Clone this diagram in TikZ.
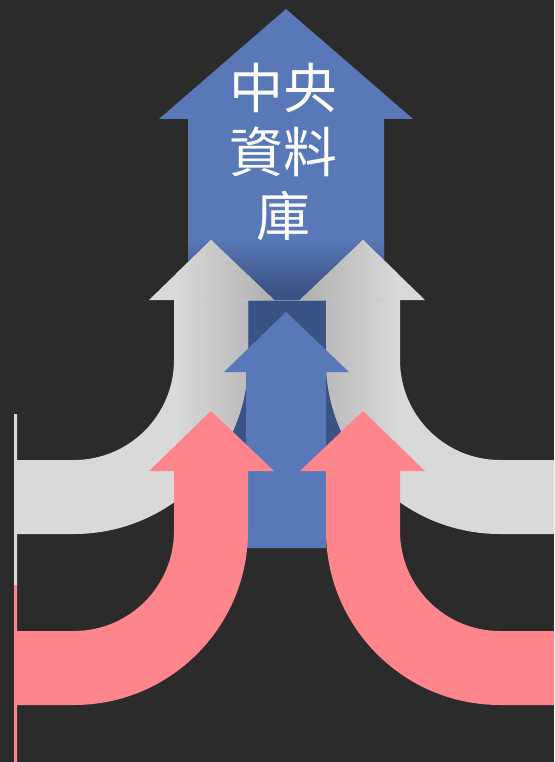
\documentclass[tikz,border=0pt]{standalone}
\usepackage{fontspec}
\newfontfamily\cjk{Noto Sans CJK TC}
\usepackage{tikz}

\definecolor{boardbg}{HTML}{2B2B2B}
\definecolor{blueMain}{HTML}{5878B8}
\definecolor{blueDark}{HTML}{3B5384}
\definecolor{grayMain}{HTML}{D9D9D9}
\definecolor{grayDark}{HTML}{A6A6A6}
\definecolor{pinkMain}{HTML}{FF858D}
\definecolor{stripGray}{HTML}{8A8A8A}
\definecolor{stripPink}{HTML}{A8656C}

\begin{document}
\begin{tikzpicture}[x=1pt, y=-1pt,
	bluearrow/.style={fill=blueMain},
	grayarrow/.style={fill=grayMain},
	pinkarrow/.style={fill=pinkMain},
	every node/.style={text=white, align=center, font=\cjk\fontsize{54}{64}\selectfont}]
		\useasboundingbox (0,0) rectangle (554,762);
		\fill[boardbg] (0,0) rectangle (554,762);

		% central arrow
		\fill[bluearrow] (188,300) -- (188,119) -- (159,119) -- (286,9)
			-- (413,119) -- (384,119) -- (384,300) -- cycle;
		\shade[top color=blueMain, bottom color=blueDark] (188,238) rectangle (384,292);
		\fill[blueDark] (188,291) rectangle (384,465);
		\node (store) at (283,152) {中央\\資料\\庫};

		% gray arrows
		\fill[grayarrow] (149,300) -- (211,240) -- (274,300) -- (248,300) -- (248,360)
			arc[start angle=0, end angle=90, radius=174] -- (17,534) -- (17,460) -- (74,460)
			arc[start angle=90, end angle=0, radius=100] -- (174,300) -- cycle;
		\fill[grayarrow] (425,300) -- (363,240) -- (300,300) -- (326,300) -- (326,360)
			arc[start angle=180, end angle=90, radius=174] -- (554,534) -- (554,460) -- (500,460)
			arc[start angle=90, end angle=180, radius=100] -- (400,300) -- cycle;
		\begin{scope}
			\clip (149,300) -- (211,240) -- (274,300) -- (248,300) -- (248,360)
				arc[start angle=0, end angle=90, radius=174] -- (74,460)
				arc[start angle=90, end angle=0, radius=100] -- (174,300) -- cycle;
			\shade[left color=grayMain, right color=grayDark] (176,230) rectangle (296,470);
		\end{scope}
		\begin{scope}
			\clip (425,300) -- (363,240) -- (300,300) -- (326,300) -- (326,360)
				arc[start angle=180, end angle=90, radius=174] -- (500,460)
				arc[start angle=90, end angle=180, radius=100] -- (400,300) -- cycle;
			\shade[left color=grayDark, right color=grayMain] (278,230) rectangle (398,470);
		\end{scope}
		\draw[blueMain!40!white, opacity=.5, line width=.8] (188,300) -- (384,300);

		% small blue arrow
		\fill[bluearrow] (246,548) -- (246,372) -- (224,372) -- (286,312)
			-- (349,372) -- (326,372) -- (326,548) -- cycle;

		% pink arrows
		\fill[pinkarrow] (149,471) -- (211,411) -- (274,471) -- (248,471) -- (248,531)
			arc[start angle=0, end angle=90, radius=174] -- (17,705) -- (17,631) -- (74,631)
			arc[start angle=90, end angle=0, radius=100] -- (174,471) -- cycle;
		\fill[pinkarrow] (425,471) -- (363,411) -- (300,471) -- (326,471) -- (326,531)
			arc[start angle=180, end angle=90, radius=174] -- (554,705) -- (554,631) -- (500,631)
			arc[start angle=90, end angle=180, radius=100] -- (400,471) -- cycle;

		% left edge strip
		\shade[top color=grayMain, middle color=stripGray, bottom color=grayMain] (14,414) rectangle (17,585);
		\shade[top color=pinkMain, middle color=stripPink, bottom color=pinkMain] (14,585) rectangle (17,762);

	\end{tikzpicture}
\end{document}
